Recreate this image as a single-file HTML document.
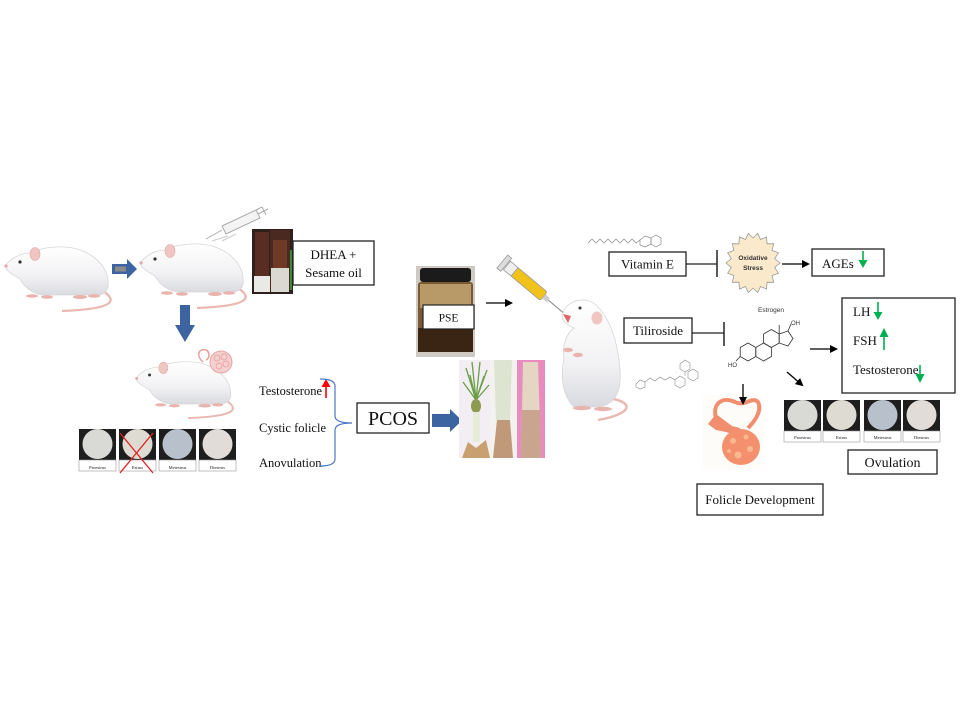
<!DOCTYPE html>
<html><head><meta charset="utf-8"><style>
html,body{margin:0;padding:0;background:#fff;}
svg{display:block;}
.s{font-family:"Liberation Serif",serif;fill:#111;}
.a{font-family:"Liberation Sans",sans-serif;}
</style></head><body>
<svg width="960" height="720" viewBox="0 0 960 720" xmlns="http://www.w3.org/2000/svg">
<defs>
<marker id="ah" markerWidth="8" markerHeight="8" refX="6" refY="4" orient="auto" markerUnits="userSpaceOnUse"><path d="M0,0 L8,4 L0,8 Z" fill="#000"/></marker>
<linearGradient id="rg" x1="0" y1="0" x2="0" y2="1"><stop offset="0" stop-color="#ffffff"/><stop offset="0.6" stop-color="#f2f2f4"/><stop offset="1" stop-color="#d9dadf"/></linearGradient>
<g id="rat">
<path d="M98,44 C118,56 112,64 60,66" fill="none" stroke="#e9b8b0" stroke-width="2.2"/>
<path d="M3,21 C8,14 18,8 28,8 C40,2 60,0 75,4 C95,10 108,25 106,42 C104,50 95,52 85,50 L40,50 C30,48 22,42 18,34 C12,30 5,27 3,21 Z" fill="url(#rg)" stroke="#d6d6da" stroke-width="0.8"/>
<ellipse cx="33" cy="9" rx="5" ry="6.5" fill="#f1c6c2" stroke="#dca8a4" stroke-width="0.6"/>
<circle cx="18" cy="17" r="1.6" fill="#333"/>
<circle cx="4" cy="21" r="1.6" fill="#e8a8a8"/>
<ellipse cx="30" cy="51" rx="6" ry="1.8" fill="#eab4ae"/>
<ellipse cx="45" cy="52" rx="6" ry="1.8" fill="#eab4ae"/>
<ellipse cx="78" cy="52" rx="7" ry="2" fill="#eab4ae"/>
<ellipse cx="92" cy="51" rx="6" ry="1.8" fill="#eab4ae"/>
</g>
<g id="est">
<rect x="0" y="0" width="37" height="31" fill="#1e1e1e"/>
<rect x="0" y="31" width="37" height="11" fill="#fff" stroke="#999" stroke-width="0.6"/>
</g>
</defs>

<!-- Rat 1 -->
<use href="#rat" x="2" y="245"/>
<path d="M112,264 L127,264 L127,259 L137,269 L127,279 L127,274 L112,274 Z" fill="#3b64a0"/>
<rect x="115" y="266.5" width="11" height="5" fill="#8a8a8a"/>
<!-- Rat 2 -->
<use href="#rat" x="137" y="242"/>
<!-- sketch syringe -->
<g stroke="#aaa" stroke-width="1" fill="#f4f4f4">
<path d="M222,226 L256,210 L260,218 L226,234 Z"/>
<path d="M256,210 L262,207 M258,214 L268,209 M262,207 L266,215"/>
<line x1="222" y1="230" x2="206" y2="239"/>
<line x1="228" y1="236" x2="212" y2="241" stroke="#ccc"/>
<line x1="236" y1="234" x2="222" y2="241" stroke="#ccc"/>
</g>
<!-- bottles photo -->
<rect x="252" y="229" width="41" height="65" fill="#2e211d"/>
<rect x="255" y="232" width="14" height="44" fill="#5a2d24"/>
<rect x="270" y="230" width="20" height="60" fill="#4a2a20"/>
<rect x="273" y="240" width="14" height="28" fill="#6e3a26"/>
<rect x="271" y="268" width="18" height="24" fill="#d9d9d2"/>
<rect x="254" y="276" width="16" height="16" fill="#e9e9e6"/>
<rect x="290" y="250" width="2" height="40" fill="#3a8a3a"/>
<!-- DHEA box -->
<rect x="293" y="241" width="81" height="44" fill="#fff" stroke="#222" stroke-width="1.3"/>
<text class="s" x="333.5" y="259" font-size="13" text-anchor="middle">DHEA +</text>
<text class="s" x="333.5" y="277" font-size="13" text-anchor="middle">Sesame oil</text>
<!-- down arrow -->
<path d="M180,305 L190,305 L190,325 L195,325 L185,342 L175,325 L180,325 Z" fill="#3b64a0"/>
<!-- Rat 3 -->
<g transform="translate(133,360) scale(0.92,0.88)"><use href="#rat"/></g>
<path d="M203,362 C196,356 198,348 206,350 C210,352 210,358 206,360" fill="none" stroke="#e8a0a0" stroke-width="1.6"/>
<circle cx="221" cy="362" r="11" fill="#f6cfcf" stroke="#e6a4a4" stroke-width="1"/>
<g fill="none" stroke="#e29c9c" stroke-width="0.7"><circle cx="217" cy="358" r="3"/><circle cx="224" cy="357" r="3"/><circle cx="226" cy="364" r="3"/><circle cx="219" cy="366" r="3"/></g>
<!-- left estrus strip -->
<use href="#est" x="79" y="429"/>
<use href="#est" x="119" y="429"/>
<use href="#est" x="159" y="429"/>
<use href="#est" x="199" y="429"/>
<circle cx="97.5" cy="444" r="15" fill="#d9d9d6"/>
<circle cx="137.5" cy="444" r="15" fill="#dedbd2"/>
<circle cx="177.5" cy="444" r="15" fill="#b8c0cc"/>
<circle cx="217.5" cy="444" r="15" fill="#e2dcd8"/>
<g class="s" font-size="4.5" text-anchor="middle" fill="#444">
<text x="97.5" y="469">Proestrus</text><text x="137.5" y="469">Estrus</text><text x="177.5" y="469">Metestrus</text><text x="217.5" y="469">Diestrus</text></g>
<line x1="120" y1="433" x2="153" y2="473" stroke="#e02020" stroke-width="1.3"/>
<line x1="153" y1="433" x2="120" y2="473" stroke="#e02020" stroke-width="1.3"/>
<!-- symptoms -->
<text class="s" x="259" y="395" font-size="12.5">Testosterone</text>
<text class="s" x="259" y="432" font-size="12.5">Cystic folicle</text>
<text class="s" x="259" y="467" font-size="12.5">Anovulation</text>
<line x1="326" y1="398" x2="326" y2="386" stroke="#ff0000" stroke-width="1.6"/>
<path d="M321.5,387 L326,379 L330.5,387 Z" fill="#ff0000"/>
<path d="M320,379 Q335,379 335,386 L335,416 Q335,423 352,423 Q335,423 335,430 L335,459 Q335,466 320,466" fill="none" stroke="#4a78c4" stroke-width="1.2"/>
<!-- PCOS -->
<rect x="357" y="403" width="72" height="30" fill="#fff" stroke="#222" stroke-width="1.3"/>
<text class="s" x="393" y="425" font-size="20" text-anchor="middle">PCOS</text>
<path d="M432,414 L450,414 L450,409 L462,420.5 L450,432 L450,427 L432,427 Z" fill="#3b64a0"/>
<!-- plants -->
<rect x="459" y="360" width="31" height="98" fill="#f3eef3"/>
<g stroke="#6a9e48" stroke-width="1.3" fill="none">
<path d="M476,400 L466,368 M476,400 L472,362 M476,400 L480,362 M476,400 L487,370 M476,400 L463,382 M476,400 L489,385 M476,400 L470,375 M476,400 L484,376"/></g>
<ellipse cx="476" cy="406" rx="5" ry="7" fill="#8c9a52"/>
<rect x="473" y="412" width="7" height="30" fill="#e6ecd8"/>
<path d="M462,458 L468,442 L476,448 L486,440 L490,458 Z" fill="#c8a070"/>
<rect x="490" y="360" width="27" height="98" fill="#f4f2ee"/>
<path d="M494,360 L512,360 L510,420 L496,420 Z" fill="#dde4d2"/>
<path d="M497,420 L510,420 L513,458 L493,458 Z" fill="#c09a78"/>
<rect x="517" y="360" width="28" height="98" fill="#e88cc0"/>
<path d="M523,362 L538,362 L541,458 L521,458 Z" fill="#e4d6c2"/>
<path d="M522,410 L540,410 L541,458 L521,458 Z" fill="#c9a48e"/>
<!-- jar -->
<rect x="416" y="266" width="59" height="91" fill="#cfcbc4"/>
<rect x="420" y="268" width="51" height="14" rx="3" fill="#1b1b1b"/>
<rect x="418" y="282" width="55" height="70" rx="3" fill="#7a5a34"/>
<rect x="420" y="284" width="51" height="24" fill="#b89a68"/>
<rect x="418" y="328" width="55" height="24" fill="#3a2414"/>
<rect x="423" y="305" width="51" height="24" fill="#fff" stroke="#222" stroke-width="1.2"/>
<text class="s" x="448.5" y="321.5" font-size="11.5" text-anchor="middle">PSE</text>
<line x1="486" y1="303" x2="511" y2="303" stroke="#000" stroke-width="1.3" marker-end="url(#ah)"/>
<!-- yellow syringe -->
<g transform="rotate(40 531 285)">
<rect x="508" y="280" width="40" height="11" rx="2" fill="#f1c21a" stroke="#999" stroke-width="0.8"/>
<rect x="500" y="280" width="10" height="11" fill="#eee" stroke="#999" stroke-width="0.8"/>
<rect x="494" y="277" width="5" height="17" fill="#ddd" stroke="#999" stroke-width="0.8"/>
<rect x="548" y="283" width="6" height="5" fill="#ccc"/>
<line x1="554" y1="285.5" x2="576" y2="285.5" stroke="#888" stroke-width="1"/>
</g>
<!-- upright rat -->
<path d="M608,398 C636,402 632,414 598,420" fill="none" stroke="#e9b8b0" stroke-width="2.4"/>
<path d="M563,313 C566,301 585,295 596,305 C610,318 618,342 620,370 C622,396 612,406 596,407 L574,407 C563,396 560,378 564,358 C562,346 566,334 574,328 C566,325 560,319 563,313 Z" fill="url(#rg)" stroke="#d6d6da" stroke-width="0.8"/>
<path d="M563,314 L571,316 L568,323 Z" fill="#d66"/>
<ellipse cx="597" cy="318" rx="5.5" ry="6.5" fill="#f1c6c2"/>
<circle cx="580" cy="308" r="1.5" fill="#333"/>
<ellipse cx="568" cy="350" rx="5" ry="2.2" fill="#eab4ae"/>
<ellipse cx="578" cy="355" rx="5" ry="2.2" fill="#eab4ae"/>
<ellipse cx="582" cy="408" rx="9" ry="2.2" fill="#eab4ae"/>
<ellipse cx="603" cy="409" rx="9" ry="2.2" fill="#eab4ae"/>
<!-- Vitamin E molecule -->
<polyline points="588,243 592,239 596,243 600,239 604,243 608,239 612,243 616,239 620,243 624,239 628,243 632,239 636,243 640,240" fill="none" stroke="#888" stroke-width="0.7"/>
<polygon points="640,240 645,236 651,238 651,244 645,247 640,245" fill="none" stroke="#888" stroke-width="0.7"/>
<polygon points="651,238 656,235 661,238 661,244 656,247 651,244" fill="none" stroke="#888" stroke-width="0.7"/>
<!-- Vitamin E box -->
<rect x="609" y="252" width="77" height="24" fill="#fff" stroke="#222" stroke-width="1.3"/>
<text class="s" x="647.5" y="268.5" font-size="13" text-anchor="middle">Vitamin E</text>
<line x1="686" y1="264" x2="717" y2="264" stroke="#222" stroke-width="1.3"/>
<line x1="717" y1="250" x2="717" y2="277" stroke="#222" stroke-width="1.5"/>
<!-- Oxidative stress -->
<polygon points="780,263 774.7,267.3 778.4,273.3 772.1,275.5 773.7,282.3 767.1,282.2 766.5,289 760.5,286.5 757.7,292.6 753,288 748.3,292.6 745.5,286.5 739.5,289 738.9,282.2 732.3,282.3 733.9,275.5 727.6,273.3 731.3,267.3 726,263 731.3,258.7 727.6,252.7 733.9,250.5 732.3,243.7 738.9,243.8 739.5,237 745.5,239.5 748.3,233.4 753,238 757.7,233.4 760.5,239.5 766.5,237 767.1,243.8 773.7,243.7 772.1,250.5 778.4,252.7 774.7,258.7" fill="#fbe9cc" stroke="#9a9a9a" stroke-width="0.8"/>
<text class="a" x="753" y="260" font-size="6.5" font-weight="bold" text-anchor="middle" fill="#333">Oxidative</text>
<text class="a" x="753" y="270" font-size="6.5" font-weight="bold" text-anchor="middle" fill="#333">Stress</text>
<line x1="782" y1="264" x2="808" y2="264" stroke="#000" stroke-width="1.3" marker-end="url(#ah)"/>
<!-- AGEs -->
<rect x="812" y="249" width="72" height="27" fill="#fff" stroke="#222" stroke-width="1.3"/>
<text class="s" x="822" y="268" font-size="13">AGEs</text>
<line x1="863" y1="251" x2="863" y2="261" stroke="#00b050" stroke-width="1.6"/>
<path d="M858.5,260 L863,268 L867.5,260 Z" fill="#00b050"/>
<!-- Tiliroside -->
<rect x="624" y="318" width="68" height="25" fill="#fff" stroke="#222" stroke-width="1.3"/>
<text class="s" x="658" y="335" font-size="13" text-anchor="middle">Tiliroside</text>
<line x1="692" y1="333" x2="724" y2="333" stroke="#222" stroke-width="1.3"/>
<line x1="724" y1="322" x2="724" y2="346" stroke="#222" stroke-width="1.5"/>
<!-- Tiliroside molecule -->
<g fill="none" stroke="#888" stroke-width="0.6">
<polygon points="636,384 640,380 645,382 645,387 640,389 636,387"/>
<polyline points="645,382 650,378 655,381 660,377 665,380 670,377 675,380"/>
<polygon points="675,380 680,376 685,379 685,385 680,388 675,385"/>
<polygon points="680,364 685,360 690,363 690,369 685,372 680,369"/>
<polygon points="688,372 693,369 698,372 698,378 693,381 688,378"/>
<polyline points="685,372 685,376 M690,363 693,358 M698,375 703,378 M680,388 680,394 M685,385 690,390"/>
</g>
<!-- ovary (drawn before arrows) -->
<rect x="703" y="395" width="59" height="75" fill="#fdfcf8"/>
<path d="M716,418 C712,404 722,396 735,402 C745,407 752,396 758,402 C762,410 756,420 748,428" fill="none" stroke="#f28e70" stroke-width="4"/>
<path d="M708,424 L716,414 L724,420 L732,426 L740,428 L738,436 L726,432 L716,430 Z" fill="#f28e70"/>
<ellipse cx="741" cy="447" rx="19" ry="18" fill="#f4906e"/>
<g fill="#f8b890"><circle cx="733" cy="441" r="3"/><circle cx="746" cy="437" r="2.5"/><circle cx="750" cy="449" r="3"/><circle cx="738" cy="455" r="3.5"/><circle cx="729" cy="451" r="2"/></g>
<!-- Estrogen -->
<text class="a" x="771" y="312" font-size="6.5" text-anchor="middle" fill="#333">Estrogen</text>
<g fill="none" stroke="#333" stroke-width="0.8">
<polygon points="748,343 755.8,347.5 755.8,356.5 748,361 740.2,356.5 740.2,347.5"/>
<polygon points="763.6,343 771.4,347.5 771.4,356.5 763.6,361 755.8,356.5 755.8,347.5"/>
<polygon points="771.4,329.5 779.2,334 779.2,343 771.4,347.5 763.6,343 763.6,334"/>
<polygon points="779.2,334 788,331 793,338.5 788,346 779.2,343"/>
<line x1="788" y1="331" x2="791" y2="324"/>
<line x1="779.2" y1="334" x2="779.2" y2="325"/>
<line x1="740.2" y1="356.5" x2="736" y2="361"/>
</g>
<text class="a" x="791" y="325" font-size="6" fill="#333">OH</text>
<text class="a" x="728" y="367" font-size="6" fill="#333">HO</text>
<line x1="810" y1="349" x2="836" y2="349" stroke="#000" stroke-width="1.3" marker-end="url(#ah)"/>
<line x1="787" y1="372" x2="802" y2="385" stroke="#000" stroke-width="1.3" marker-end="url(#ah)"/>
<line x1="743" y1="384" x2="743" y2="403" stroke="#000" stroke-width="1.3" marker-end="url(#ah)"/>
<!-- LH box -->
<rect x="842" y="298" width="113" height="95" fill="#fff" stroke="#222" stroke-width="1.3"/>
<text class="s" x="853" y="316" font-size="13">LH</text>
<text class="s" x="853" y="345" font-size="13">FSH</text>
<text class="s" x="853" y="374" font-size="13">Testosterone</text>
<line x1="878" y1="302" x2="878" y2="313" stroke="#00b050" stroke-width="1.6"/>
<path d="M873.5,312 L878,320 L882.5,312 Z" fill="#00b050"/>
<line x1="884" y1="350" x2="884" y2="336" stroke="#00b050" stroke-width="1.6"/>
<path d="M879.5,337 L884,328 L888.5,337 Z" fill="#00b050"/>
<line x1="920" y1="365" x2="920" y2="375" stroke="#00b050" stroke-width="1.6"/>
<path d="M915.5,374 L920,383 L924.5,374 Z" fill="#00b050"/>
<!-- right estrus strip -->
<use href="#est" x="784" y="400"/>
<use href="#est" x="823" y="400"/>
<use href="#est" x="864" y="400"/>
<use href="#est" x="903" y="400"/>
<circle cx="802.5" cy="415" r="15" fill="#d9d9d6"/>
<circle cx="841.5" cy="415" r="15" fill="#dedbd2"/>
<circle cx="882.5" cy="415" r="15" fill="#b8c0cc"/>
<circle cx="921.5" cy="415" r="15" fill="#e2dcd8"/>
<g class="s" font-size="4.5" text-anchor="middle" fill="#444">
<text x="802.5" y="439">Proestrus</text><text x="841.5" y="439">Estrus</text><text x="882.5" y="439">Metestrus</text><text x="921.5" y="439">Diestrus</text></g>
<!-- Ovulation -->
<rect x="848" y="450" width="89" height="24" fill="#fff" stroke="#222" stroke-width="1.3"/>
<text class="s" x="892.5" y="467" font-size="14" text-anchor="middle">Ovulation</text>
<!-- Folicle Development -->
<rect x="697" y="484" width="126" height="31" fill="#fff" stroke="#222" stroke-width="1.3"/>
<text class="s" x="760" y="504" font-size="13" text-anchor="middle">Folicle Development</text>
</svg>
</body></html>
